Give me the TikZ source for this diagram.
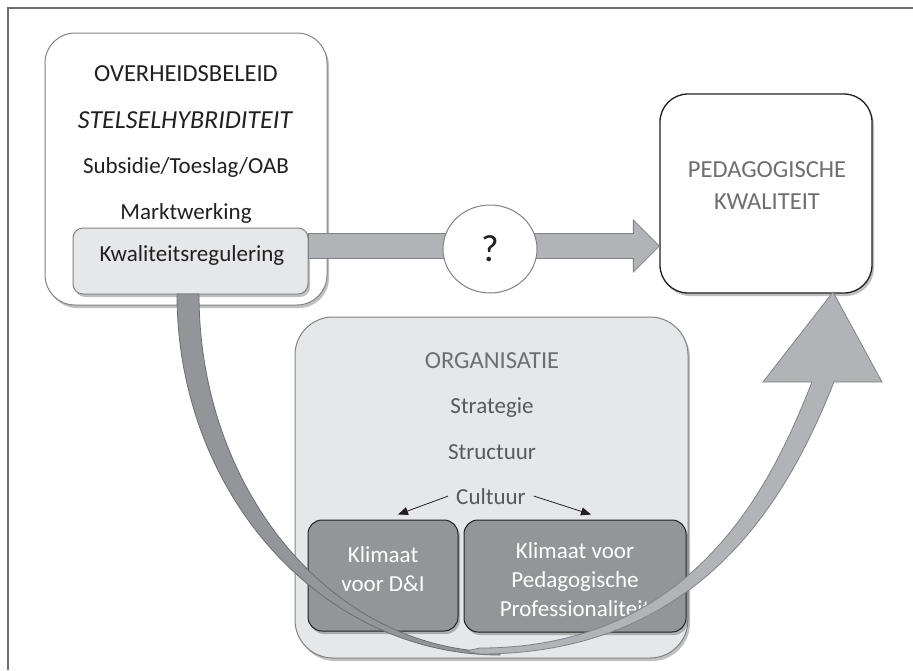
\documentclass[tikz,border=0pt]{standalone}
\usepackage{fontspec}
\setmainfont{Carlito}
\usetikzlibrary{shapes.geometric,shadows,arrows.meta}
\definecolor{framegray}{HTML}{6D6E71}
\definecolor{lightfill}{HTML}{E6E7E8}
\definecolor{darkfill}{HTML}{939598}
\definecolor{arrowfill}{HTML}{B1B3B6}
\definecolor{edgegray}{HTML}{808285}
\definecolor{textgray}{HTML}{6D6E71}
\definecolor{orggray}{HTML}{58595B}
\definecolor{inkblack}{HTML}{231F20}

\begin{document}
\begin{tikzpicture}[x=1pt,y=-1pt,
softshadow/.style={drop shadow={shadow xshift=2pt,shadow yshift=-3pt,opacity=.25,fill=black}},
roundbox/.style={draw=edgegray,line width=1pt,fill=white,inner sep=0pt,rounded corners=30pt,softshadow},
graybox/.style={draw=edgegray,line width=1pt,fill=lightfill,inner sep=0pt},
climbox/.style={draw=inkblack,line width=1pt,fill=darkfill,inner sep=0pt,rounded corners=14pt,softshadow},
boxtext/.style={font=\fontsize{23}{29}\selectfont,inner sep=0pt},
capstext/.style={font=\fontsize{24.5}{32}\selectfont,inner sep=0pt},
fatarrow/.style={draw=edgegray,line width=.8pt,fill=arrowfill},
cularrow/.style={-{Triangle[length=10pt,width=8pt]},inkblack,line width=.8pt}]
\useasboundingbox (0,0) rectangle (913,670);
% The frame
\draw[framegray,line width=1.5pt] (8,670) -- (8,8) -- (913,8);

% Government policy
\node[roundbox,minimum width=282pt,minimum height=272pt] (overheid) at (186,169) {};
\node[capstext,anchor=base,text=inkblack] (titel) at (186,81) {OVERHEIDSBELEID};
\node[capstext,anchor=base,text=inkblack,font=\fontsize{26}{32}\selectfont\itshape] (stelsel) at (185,128) {STELSELHYBRIDITEIT};
\node[boxtext,anchor=base,text=inkblack] (subsidie) at (186,173) {Subsidie/Toeslag/OAB};
\node[boxtext,anchor=base,text=inkblack] (markt) at (186,219) {Marktwerking};

% The quality box and the arrow with the question
\node[graybox,rounded corners=10pt,minimum width=235pt,minimum height=66pt,softshadow] (kwal) at (190.5,261) {};
\node[boxtext,anchor=base,text=inkblack] (kwaltext) at (192,261) {Kwaliteitsregulering};
\node[roundbox,draw=inkblack,line width=1.3pt,rounded corners=28pt,minimum width=212pt,minimum height=199pt] (ped) at (766,193.5) {};
\node[capstext,text=textgray,align=center] (pedtext) at (767,186) {PEDAGOGISCHE\\KWALITEIT};
\coordinate (qstart) at ([yshift=15pt]kwal.east);
\coordinate (qend) at (ped.west |- qstart);
\draw[fatarrow] ([yshift=12.5pt]qstart) -- ([xshift=-26pt,yshift=12.5pt]qend)
  -- ([xshift=-26pt,yshift=26pt]qend) -- (qend) -- ([xshift=-26pt,yshift=-26pt]qend)
  -- ([xshift=-26pt,yshift=-12.5pt]qend) -- ([yshift=-12.5pt]qstart) -- cycle;
\node[ellipse,draw=edgegray,line width=1pt,fill=white,inner sep=0pt,minimum width=94pt,minimum height=88pt,
  font=\fontsize{38}{40}\selectfont,text=inkblack] (vraag) at (490,249) {?};

% The organisation
\node[graybox,rounded corners=38pt,minimum width=393pt,minimum height=341pt,softshadow] (org) at (491.5,487.5) {};
\node[capstext,anchor=base,text=textgray] (orgtitel) at (492,368) {ORGANISATIE};
\node[boxtext,anchor=base,text=orggray] (strategie) at (492,413) {Strategie};
\node[boxtext,anchor=base,text=orggray] (structuur) at (492,459) {Structuur};
\node[boxtext,anchor=base,text=orggray,inner xsep=8pt] (cultuur) at (491,504) {Cultuur};
\node[climbox,minimum width=150pt,minimum height=111pt] (dei) at (383,575.5) {};
\node[climbox,minimum width=222pt,minimum height=112pt] (klimped) at (575,576) {};
\node[boxtext,text=white,align=center] (deitext) at (383,569) {Klimaat\\voor D\&I};
\node[boxtext,text=white,align=center] (klimpedtext) at (575,580) {Klimaat voor\\Pedagogische\\Professionaliteit};
\draw[cularrow] (cultuur.west) -- ([xshift=15pt,yshift=5pt]dei.north);
\draw[cularrow] (cultuur.east) -- ([xshift=16pt,yshift=5pt]klimped.north);

% The curved arrow
\draw[draw=framegray,line width=.8pt,fill=darkfill] (177,294)
  arc[start angle=180,end angle=90,x radius=323,y radius=361] -- (500,652)
  arc[start angle=90,end angle=180,x radius=301,y radius=358] -- cycle;
\draw[fatarrow] (812,382) -- (763,382) -- (833,292) -- (882,382) -- (834,382)
  .. controls (793,484) and (710,654) .. (480,654) -- (466,651) -- (480,648)
  .. controls (700,648) and (775,475) .. (812,382) -- cycle;
\end{tikzpicture}
\end{document}
